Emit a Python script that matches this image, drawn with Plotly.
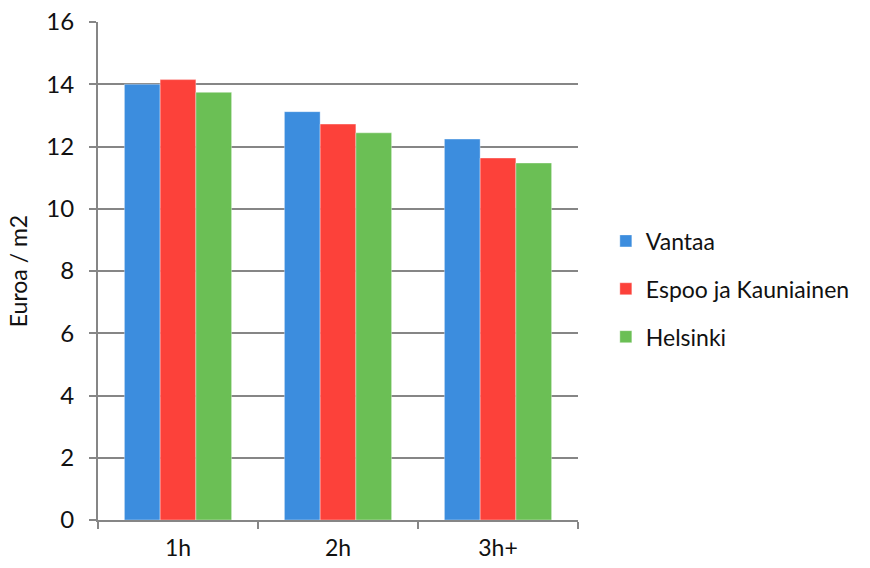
import plotly.graph_objects as go

categories = ["1h", "2h", "3h+"]
vantaa = [14.0, 13.12, 12.24]
espoo = [14.15, 12.72, 11.63]
helsinki = [13.74, 12.44, 11.47]
series_names = ["Vantaa", "Espoo ja Kauniainen", "Helsinki"]
colors = ["#3c8dde", "#fc413a", "#6bbf55"]
y_ticks = [0, 2, 4, 6, 8, 10, 12, 14, 16]

FONT = "Lato"

fig = go.Figure()
for name, vals, col in zip(series_names, [vantaa, espoo, helsinki], colors):
    fig.add_trace(go.Bar(
        x=categories, y=vals, name=name, legendgroup=name,
        marker=dict(color=col, line=dict(width=0.6, color="rgba(255,255,255,0.6)")),
    ))

fig.update_layout(
    width=870, height=568,
    margin=dict(l=98, r=292, t=22, b=48),
    paper_bgcolor="white", plot_bgcolor="white",
    barmode="group", bargap=0.33, bargroupgap=0,
    font=dict(family=FONT, size=23, color="#111111"),
    legend=dict(
        x=1.058, y=0.464, xanchor="left", yanchor="middle",
        font=dict(family=FONT, size=23, color="#111111"),
        traceorder="grouped", tracegroupgap=15,
        itemwidth=30, borderwidth=0,
    ),
    showlegend=True,
)
fig.update_xaxes(
    automargin=False,
    showline=True, linecolor="#868686", linewidth=2,
    ticks="outside", ticklen=7, tickcolor="#868686", tickwidth=2,
    tickson="boundaries", showgrid=False,
    ticklabelstandoff=6, ticklabeloverflow="allow",
    tickfont=dict(family=FONT, size=23, color="#111111"),
)
fig.update_yaxes(
    automargin=False,
    range=[0, 16.001], tickvals=y_ticks,
    showline=True, linecolor="#868686", linewidth=2,
    ticks="outside", ticklen=7, tickcolor="#868686", tickwidth=2,
    showgrid=True, gridcolor="#868686", gridwidth=2,
    zeroline=False,
    ticklabelstandoff=10, ticklabeloverflow="allow",
    tickfont=dict(family=FONT, size=24, color="#111111"),
    title=dict(text="Euroa / m2", font=dict(family=FONT, size=23, color="#111111"), standoff=12),
)

fig.write_html("out.html", config={"displayModeBar": False},
               post_script="document.body.style.margin='0';")
